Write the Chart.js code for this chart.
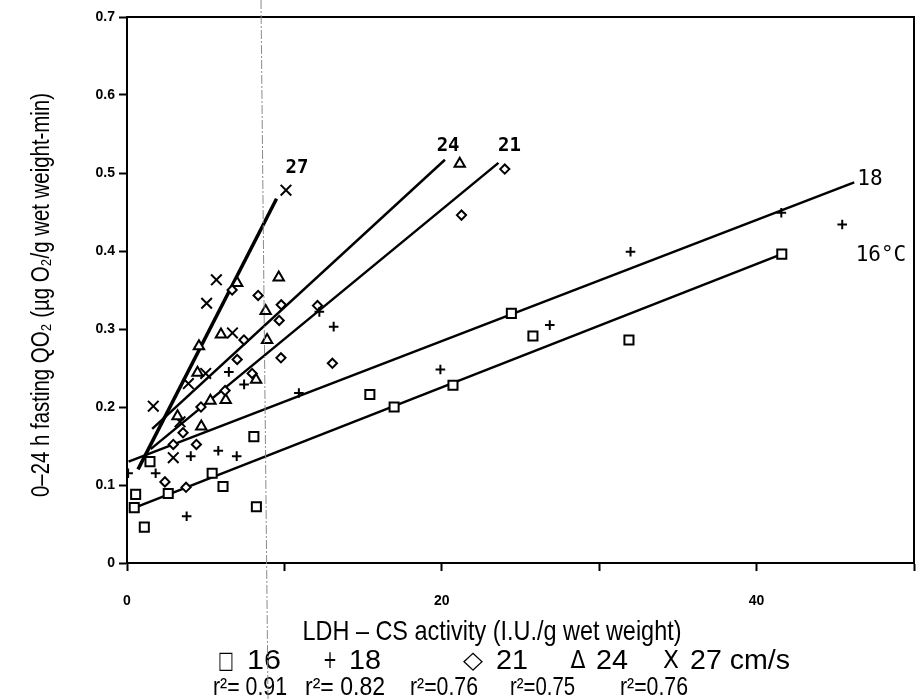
<!DOCTYPE html>
<html><head><meta charset="utf-8">
<script src="https://cdn.jsdelivr.net/npm/chart.js@4.4.1/dist/chart.umd.min.js"></script>
<style>html,body{margin:0;padding:0;background:#fff;}canvas{display:block;}</style>
</head><body>
<canvas id="c" width="923" height="699"></canvas>
<script>
// ---- data ----
const xLabeledTicks = [0, 20, 40];
const yTickLabels = ['0', '0.1', '0.2', '0.3', '0.4', '0.5', '0.6', '0.7'];

const speed16X = [0.55, 0.46, 1.10, 1.46, 2.62, 5.41, 6.10, 8.06, 8.22, 15.43, 16.97, 20.71, 24.42, 25.79, 31.89, 41.60];
const speed16Y = [0.088, 0.071, 0.046, 0.130, 0.089, 0.115, 0.098, 0.162, 0.072, 0.216, 0.200, 0.228, 0.320, 0.291, 0.286, 0.396];

const speed18X = [0.07, 1.82, 3.79, 4.05, 5.80, 6.97, 6.47, 7.44, 10.92, 12.22, 13.13, 19.91, 26.86, 31.99, 41.57, 45.44];
const speed18Y = [0.115, 0.115, 0.060, 0.137, 0.144, 0.137, 0.245, 0.229, 0.218, 0.322, 0.303, 0.248, 0.305, 0.399, 0.449, 0.434];

const speed21X = [2.41, 3.75, 2.94, 4.41, 3.56, 4.70, 6.23, 7.00, 7.95, 7.43, 6.68, 8.33, 9.67, 9.80, 9.78, 12.10, 13.05, 21.25, 24.00];
const speed21Y = [0.104, 0.097, 0.152, 0.152, 0.167, 0.200, 0.221, 0.261, 0.243, 0.286, 0.350, 0.343, 0.311, 0.331, 0.263, 0.330, 0.256, 0.446, 0.505];

const speed24X = [3.21, 4.72, 5.30, 6.27, 4.48, 4.57, 5.97, 8.20, 8.90, 8.81, 7.00, 9.64, 21.14];
const speed24Y = [0.188, 0.175, 0.208, 0.209, 0.244, 0.278, 0.293, 0.235, 0.286, 0.323, 0.359, 0.366, 0.512];

const speed27X = [1.67, 2.94, 3.37, 3.90, 5.00, 6.70, 5.06, 5.68, 10.10];
const speed27Y = [0.201, 0.135, 0.181, 0.230, 0.243, 0.295, 0.333, 0.363, 0.478];

// regression lines (end points)
const fit16X = [0.5, 41.6];  const fit16Y = [0.071, 0.396];
const fit18X = [0.1, 46.2];  const fit18Y = [0.130, 0.488];
const fit21X = [1.5, 23.6];  const fit21Y = [0.146, 0.513];
const fit24X = [1.6, 20.2];  const fit24Y = [0.172, 0.517];
const fit27X = [0.7, 9.5];   const fit27Y = [0.120, 0.467];

const curveLabels = ['27', '24', '21', '18', '16°C'];
const curveLabelX = [10.8, 20.4, 24.3, 47.2, 47.9];
const curveLabelY = [0.506, 0.535, 0.534, 0.491, 0.394];

const legendSymbols = ['□', '+', '◇', 'Δ', 'X'];
const legendLabels = ['16', '18', '21', '24', '27 cm/s'];
const r2Labels = ['r²= 0.91', 'r²= 0.82', 'r²=0.76', 'r²=0.75', 'r²=0.76'];

const xTitle = 'LDH – CS activity (I.U./g wet weight)';
const yTitle = '0–24 h fasting QO₂ (µg O₂/g wet weight-min)';

// ---- helpers ----
const pts = (xs, ys) => xs.map((x, i) => ({x: x, y: ys[i]}));

function marker(label, xs, ys, style, r) {
  return {label: label, data: pts(xs, ys), pointStyle: style, pointRadius: r,
    pointBorderColor: '#000', pointBackgroundColor: '#fff', pointBorderWidth: 2,
    showLine: false, order: 1};
}
function fitLine(label, xs, ys, w) {
  return {label: label, data: pts(xs, ys), showLine: true, pointRadius: 0,
    borderColor: '#000', borderWidth: w, fill: false, order: 2};
}

function fitText(ctx, text, x, y, w, font, align) {
  ctx.save();
  ctx.font = font;
  const m = ctx.measureText(text).width;
  const s = w / m;
  ctx.translate(x, y);
  ctx.scale(s, 1);
  ctx.textAlign = align || 'left';
  ctx.textBaseline = 'middle';
  ctx.fillStyle = '#000';
  ctx.fillText(text, 0, 0);
  ctx.restore();
}

const decor = {
  id: 'decor',
  afterDraw(chart) {
    const ctx = chart.ctx;
    const a = chart.chartArea;
    const xs = chart.scales.x, ys = chart.scales.y;
    ctx.save();
    // frame top/right
    ctx.strokeStyle = '#000';
    ctx.lineWidth = 2;
    ctx.beginPath();
    ctx.moveTo(a.left - 1, a.top);
    ctx.lineTo(a.right, a.top);
    ctx.lineTo(a.right, a.bottom);
    ctx.stroke();

    // curve labels
    ctx.fillStyle = '#000';
    ctx.textAlign = 'center';
    ctx.textBaseline = 'middle';
    curveLabels.forEach((t, i) => {
      ctx.font = (i < 3 ? 'bold 19px' : '21px') + ' "DejaVu Sans Mono", "Liberation Mono", monospace';
      ctx.fillText(t, xs.getPixelForValue(curveLabelX[i]), ys.getPixelForValue(curveLabelY[i]));
    });

    // axis titles
    fitText(ctx, xTitle, 492, 632, 379, '28px "Liberation Sans", Arial, sans-serif', 'center');
    ctx.save();
    ctx.translate(42, 295);
    ctx.rotate(-Math.PI / 2);
    fitText(ctx, yTitle, 0, 0, 404, '25px "Liberation Sans", Arial, sans-serif', 'center');
    ctx.restore();

    // legend rows
    const symX = [226, 330, 473, 578, 671];
    const symW = [16, 14, 20, 15, 16];
    const txtX = [247, 349, 496, 596, 690];
    const txtW = [34, 32, 32, 32, 100];
    legendSymbols.forEach((s, i) => {
      fitText(ctx, s, symX[i], 662, symW[i], '24px "DejaVu Sans", sans-serif', 'center');
      fitText(ctx, legendLabels[i], txtX[i], 662, txtW[i], '27px "Liberation Sans", Arial, sans-serif', 'left');
    });
    const r2X = [213, 305, 410, 510, 620];
    const r2W = [74, 80, 68, 65, 68];
    r2Labels.forEach((s, i) => {
      fitText(ctx, s, r2X[i], 688, r2W[i], '26px "Liberation Sans", Arial, sans-serif', 'left');
    });

    // scanner fold line
    ctx.strokeStyle = '#8a8a8a';
    ctx.lineWidth = 1;
    ctx.setLineDash([9, 2, 2, 2]);
    ctx.beginPath();
    ctx.moveTo(261, 0);
    ctx.lineTo(268, 699);
    ctx.stroke();
    ctx.restore();
  }
};

const tickFont = {family: '"Liberation Sans", Arial, sans-serif', size: 14, weight: 'bold'};

new Chart(document.getElementById('c'), {
  type: 'scatter',
  data: {
    datasets: [
      fitLine('fit16', fit16X, fit16Y, 2.5),
      fitLine('fit18', fit18X, fit18Y, 2.5),
      fitLine('fit21', fit21X, fit21Y, 2.5),
      fitLine('fit24', fit24X, fit24Y, 2.5),
      fitLine('fit27', fit27X, fit27Y, 3.5),
      marker('16', speed16X, speed16Y, 'rect', 6.4),
      marker('18', speed18X, speed18Y, 'cross', 4.8),
      marker('21', speed21X, speed21Y, 'rectRot', 4.6),
      marker('24', speed24X, speed24Y, 'triangle', 6.0),
      marker('27', speed27X, speed27Y, 'crossRot', 7.5)
    ]
  },
  options: {
    responsive: false,
    animation: false,
    devicePixelRatio: 1,
    layout: {autoPadding: false, padding: {left: 0, right: 9, top: 17, bottom: 0}},
    plugins: {legend: {display: false}, tooltip: {enabled: false}, title: {display: false}},
    scales: {
      x: {
        type: 'linear', min: 0, max: 50,
        border: {color: '#000', width: 2},
        grid: {drawOnChartArea: false, drawTicks: true, tickLength: 8, tickColor: '#000', tickWidth: 2},
        ticks: {stepSize: 10, color: '#000', font: tickFont, padding: 22, maxRotation: 0,
          callback: v => xLabeledTicks.includes(v) ? String(v) : ''},
        afterFit: s => { s.height = 136; s.paddingRight = 0; s.paddingLeft = 0; }
      },
      y: {
        type: 'linear', min: 0, max: 0.7,
        border: {color: '#000', width: 2},
        grid: {drawOnChartArea: false, drawTicks: true, tickLength: 8, tickColor: '#000', tickWidth: 2},
        ticks: {stepSize: 0.1, color: '#000', font: tickFont, padding: 4,
          callback: v => yTickLabels[Math.round(v * 10)]},
        afterFit: s => { s.width = 127; s.paddingTop = 0; s.paddingBottom = 0; }
      }
    }
  },
  plugins: [decor]
});
</script>
</body></html>
